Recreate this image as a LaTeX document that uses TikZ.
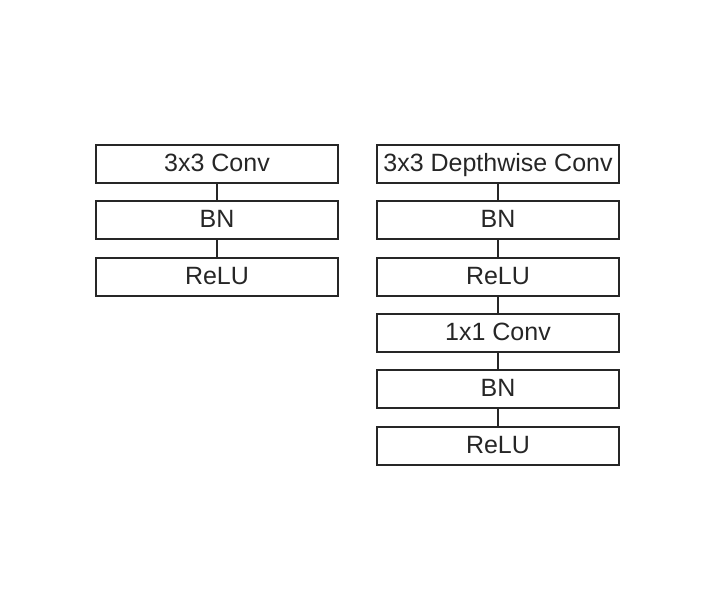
\documentclass[tikz,border=0pt]{standalone}
\usepackage{fontspec}
\setmainfont{Liberation Sans}
\begin{document}
\begin{tikzpicture}[x=1pt,y=-1pt,
  layer/.style={draw=black!85,line width=1.8pt,minimum width=242pt,minimum height=38pt,inner sep=0pt,text height=17.5pt,text depth=3pt,font=\fontsize{25}{29}\selectfont,text=black!85},
  link/.style={draw=black!85,line width=1.8pt}]
\useasboundingbox (0,0) rectangle (710,599);
\node[layer] (l1) at (217,164) {3x3 Conv};
\node[layer] (l2) at (217,220) {BN};
\node[layer] (l3) at (217,277) {ReLU};
\node[layer] (r1) at (498,164) {3x3 Depthwise Conv};
\node[layer] (r2) at (498,220) {BN};
\node[layer] (r3) at (498,277) {ReLU};
\node[layer] (r4) at (498,333) {1x1 Conv};
\node[layer] (r5) at (498,389) {BN};
\node[layer] (r6) at (498,446) {ReLU};
\draw[link] (l1) -- (l2);
\draw[link] (l2) -- (l3);
\draw[link] (r1) -- (r2);
\draw[link] (r2) -- (r3);
\draw[link] (r3) -- (r4);
\draw[link] (r4) -- (r5);
\draw[link] (r5) -- (r6);
\end{tikzpicture}
\end{document}
